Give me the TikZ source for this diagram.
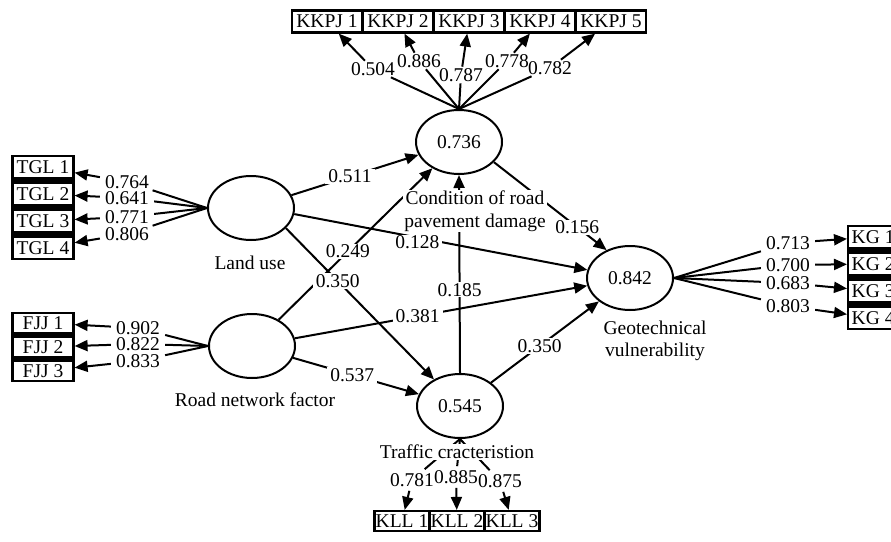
\documentclass[tikz,border=0pt]{standalone}
\usepackage{fontspec}
\setmainfont{Liberation Serif}
\usetikzlibrary{arrows.meta,shapes.geometric,backgrounds}
\newcommand\figfont{\fontsize{19.5}{20}\selectfont}
\begin{document}
\begin{tikzpicture}[x=1pt,y=-1pt,
  lat/.style={ellipse,draw,line width=2pt,minimum width=86pt,minimum height=64pt,inner sep=0pt,font=\figfont},
  ind/.style={rectangle,draw,line width=2.2pt,fill=white,minimum height=20pt,inner sep=0pt,font=\figfont},
  lbl/.style={fill=white,inner xsep=3pt,inner ysep=1pt,font=\figfont},
  ilbl/.style={inner xsep=5pt,inner ysep=1.5pt,font=\figfont},
  txt/.style={fill=white,inner sep=1pt,font=\fontsize{19.5}{22.5}\selectfont},
  ln/.style={line width=2pt},
  arr/.style={line width=2pt,-{Triangle[length=13pt,width=11pt]}},
]
\useasboundingbox (0,0) rectangle (891,541);

% latent variables
\node[lat] (lu) at (251,208) {};
\node[lat] (rn) at (252,346) {};
\node[lat] (cd) at (459,142) {0.736};
\node[lat] (tc) at (460,406) {0.545};
\node[lat] (gv) at (630,278) {0.842};

% indicators
\node[ind,minimum width=61pt,minimum height=22pt] (t1) at (43,167) {TGL 1};
\node[ind,minimum width=61pt,minimum height=22pt] (t2) at (43,194) {TGL 2};
\node[ind,minimum width=61pt,minimum height=22pt] (t3) at (43,221) {TGL 3};
\node[ind,minimum width=61pt,minimum height=22pt] (t4) at (43,248) {TGL 4};

\node[ind,minimum width=61pt] (f1) at (43,323) {FJJ 1};
\node[ind,minimum width=61pt] (f2) at (43,347) {FJJ 2};
\node[ind,minimum width=61pt] (f3) at (43,371) {FJJ 3};

\node[ind,minimum width=50pt,minimum height=22pt,inner xsep=3pt,anchor=west] (g1) at (847,237) {KG 1};
\node[ind,minimum width=50pt,minimum height=22pt,inner xsep=3pt,anchor=west] (g2) at (847,264) {KG 2};
\node[ind,minimum width=50pt,minimum height=22pt,inner xsep=3pt,anchor=west] (g3) at (847,291) {KG 3};
\node[ind,minimum width=50pt,minimum height=22pt,inner xsep=3pt,anchor=west] (g4) at (847,318) {KG 4};

\node[ind,minimum width=70pt,minimum height=22pt] (k1) at (327,21.5) {KKPJ 1};
\node[ind,minimum width=70pt,minimum height=22pt] (k2) at (398,21.5) {KKPJ 2};
\node[ind,minimum width=70pt,minimum height=22pt] (k3) at (469,21.5) {KKPJ 3};
\node[ind,minimum width=70pt,minimum height=22pt] (k4) at (540,21.5) {KKPJ 4};
\node[ind,minimum width=70pt,minimum height=22pt] (k5) at (611,21.5) {KKPJ 5};

\node[ind,minimum width=55pt] (c1) at (402,521) {KLL 1};
\node[ind,minimum width=55pt] (c2) at (457,521) {KLL 2};
\node[ind,minimum width=55pt] (c3) at (512,521) {KLL 3};

\begin{scope}[on background layer]
  \fill[white] (0,0) rectangle (891,541);
  \fill (t1.north west) rectangle (t4.south east);
  \fill (f1.north west) rectangle (f3.south east);
  \fill (g1.north west) rectangle (g4.south east);
\end{scope}

% loading labels
\node[ilbl] (lt1) at (127,182) {0.764};
\node[ilbl] (lt2) at (127,198) {0.641};
\node[ilbl] (lt3) at (127,217) {0.771};
\node[ilbl] (lt4) at (127,234) {0.806};

\node[ilbl] (lf1) at (138,328) {0.902};
\node[ilbl] (lf2) at (138,344) {0.822};
\node[ilbl] (lf3) at (138,361) {0.833};

\node[ilbl] (lg1) at (788,243) {0.713};
\node[ilbl] (lg2) at (788,265) {0.700};
\node[ilbl] (lg3) at (788,283) {0.683};
\node[ilbl] (lg4) at (788,306) {0.803};

\node[ilbl] (lk1) at (373,69) {0.504};
\node[ilbl] (lk2) at (419,61) {0.886};
\node[ilbl] (lk3) at (461,75) {0.787};
\node[ilbl] (lk4) at (507,61) {0.778};
\node[ilbl] (lk5) at (550,68) {0.782};

\node[ilbl,inner xsep=0pt,inner ysep=4pt] (lc1) at (412,480) {0.781};
\node[ilbl,inner xsep=0pt,inner ysep=4pt] (lc2) at (456,477) {0.885};
\node[ilbl,inner xsep=0pt,inner ysep=4pt] (lc3) at (500,481) {0.875};

% outer model connectors
\foreach \i in {1,...,4} {
  \draw[ln] (lu.west) -- (lt\i);
  \draw[arr] (lt\i) -- (t\i);
  \draw[ln] (gv.east) -- (lg\i);
  \draw[arr] (lg\i) -- (g\i);
}
\foreach \i in {1,2,3} {
  \draw[ln] (rn.west) -- (lf\i);
  \draw[arr] (lf\i) -- (f\i);
  \draw[ln] (tc.south) -- (lc\i);
  \draw[arr] (lc\i) -- (c\i);
}
\foreach \i in {1,...,5} {
  \draw[ln] (cd.north) -- (lk\i);
  \draw[arr] (lk\i) -- (k\i);
}

% inner model connectors
\draw[arr] (lu) -- (cd);
\draw[arr] (rn) -- (cd);
\draw[arr] (lu.-30) -- (tc);
\draw[arr] (lu.-8) -- (gv);
\draw[arr] (rn) -- (gv);
\draw[arr] (rn) -- (tc);
\draw[arr] (tc.north) -- (cd.south);
\draw[arr] (tc) -- (gv);
\draw[arr] (cd.-30) -- (gv.130);

% path coefficients
\path (lu) -- (cd) node[lbl,pos=.46] {0.511};
\path (rn) -- (cd) node[lbl,pos=.45] {0.249};
\path (lu.-30) -- (tc) node[lbl,pos=.35] {0.350};
\path (lu.-8) -- (gv) node[lbl,pos=.42,yshift=-5pt] {0.128};
\path (rn) -- (gv) node[lbl,pos=.42] {0.381};
\path (rn) -- (tc) node[lbl,pos=.47] {0.537};
\path (tc.north) -- (cd.south) node[lbl,pos=.42] {0.185};
\path (tc) -- (gv) node[lbl,pos=.45] {0.350};
\path (cd.-30) -- (gv.130) node[lbl,pos=.74] {0.156};

% captions
\node[txt] (tlu) at (250,263) {Land use};
\node[txt] (trn) at (255,400) {Road network factor};
\node[txt,align=center] (tcd) at (475,211) {Condition of road\\pavement damage};
\node[txt] (ttc) at (457,452) {Traffic cracteristion};
\node[txt,align=center] (tgv) at (655,341) {Geotechnical\\vulnerability};
\end{tikzpicture}
\end{document}
